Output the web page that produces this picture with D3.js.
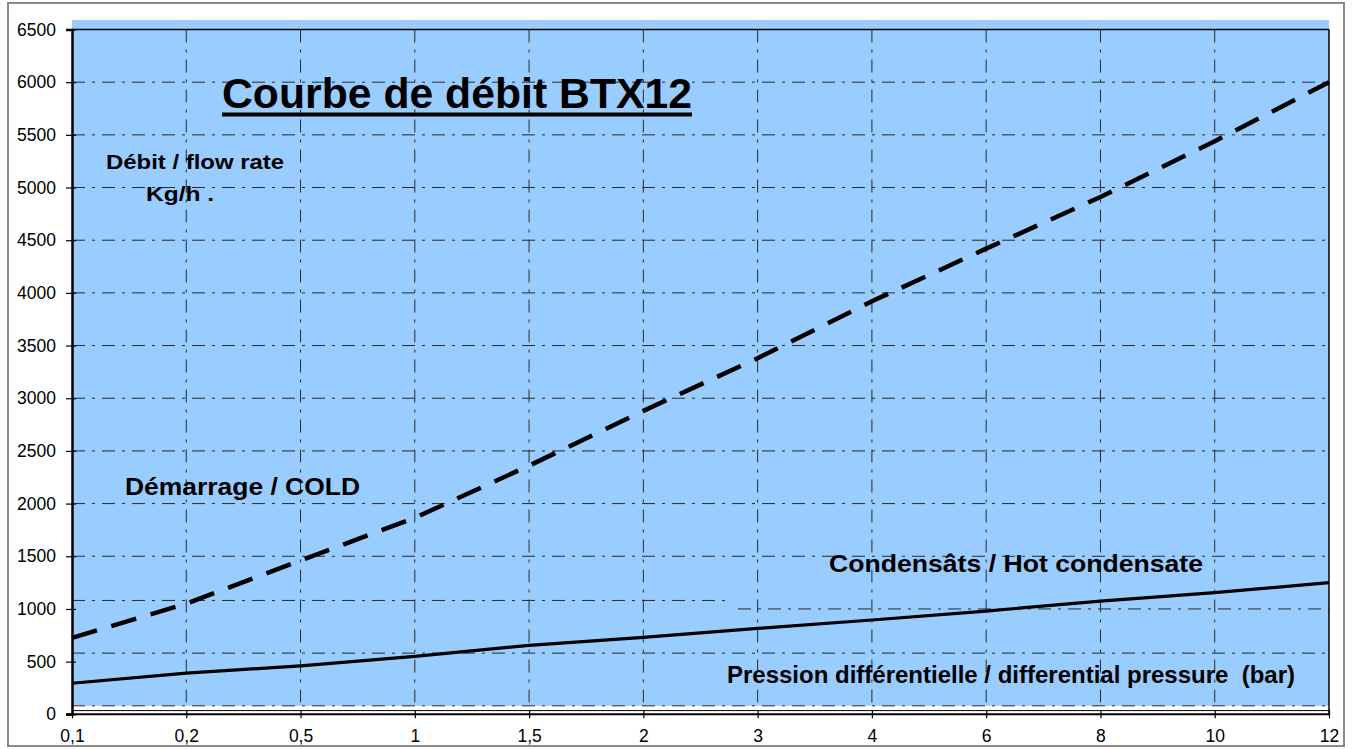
<!DOCTYPE html>
<html>
<head>
<meta charset="utf-8">
<script src="https://cdn.jsdelivr.net/npm/d3@7/dist/d3.min.js"></script>
<style>
  html, body { margin: 0; padding: 0; background: #fff; }
  svg { display: block; font-family: Arial, "Liberation Sans", sans-serif; }
</style>
</head>
<body>
<svg id="chart" width="1354" height="749"></svg>
<script>
// ---- data ----
const categories = ["0,1", "0,2", "0,5", "1", "1,5", "2", "3", "4", "6", "8", "10", "12"];
const coldValues = [725, 1050, 1460, 1865, 2360, 2880, 3380, 3920, 4420, 4910, 5440, 6000];
const hotValues  = [295, 390, 460, 550, 655, 730, 815, 895, 980, 1075, 1155, 1250];
const yTicks = [0, 500, 1000, 1500, 2000, 2500, 3000, 3500, 4000, 4500, 5000, 5500, 6000, 6500];
const titleText = "Courbe de débit BTX12";
const yLabel1 = "Débit / flow rate";
const yLabel2 = "Kg/h .";
const coldLabel = "Démarrage / COLD";
const hotLabel = "Condensâts / Hot condensate";
const xLabel = "Pression différentielle / differential pressure  (bar)";

(function () {
// ---- layout ----
const svg = d3.select("#chart");
const pLeft = 72, pRight = 1329, pTop = 29.5, pBottom = 714.3;
const x = d3.scalePoint().domain(categories).range([pLeft, pRight]);
const y = d3.scaleLinear().domain([0, 6500]).range([pBottom, pTop]);
const gridShift = 8.5; // lower strip of the reference grid is drawn slightly higher

// outer frame
svg.append("rect").attr("x", 8).attr("y", 3).attr("width", 1336).attr("height", 743)
  .attr("fill", "#fff").attr("stroke", "#8a8a8a").attr("stroke-width", 2);

// plot background
svg.append("rect").attr("x", pLeft).attr("y", 20).attr("width", pRight - pLeft)
  .attr("height", (pBottom - gridShift) - 20).attr("fill", "#99CCFF");

const gridStyle = sel => sel.attr("stroke", "#2a2a2a").attr("stroke-width", 1)
  .attr("stroke-dasharray", "13,7,3,7").attr("fill", "none");

// vertical grid lines
svg.append("g").selectAll("line").data(categories.slice(1, -1)).join("line")
  .attr("x1", d => x(d)).attr("x2", d => x(d))
  .attr("y1", pTop).attr("y2", pBottom - gridShift)
  .call(gridStyle);

// horizontal grid lines
const gH = svg.append("g");
yTicks.filter(v => v < 6500).forEach(v => {
  if (v >= 1500) {
    gH.append("line").attr("x1", pLeft).attr("x2", pRight).attr("y1", y(v)).attr("y2", y(v)).call(gridStyle);
  } else if (v === 1000) {
    gH.append("line").attr("x1", pLeft).attr("x2", 730).attr("y1", y(v) - gridShift).attr("y2", y(v) - gridShift).call(gridStyle);
    gH.append("line").attr("x1", 738).attr("x2", pRight).attr("y1", y(v)).attr("y2", y(v)).call(gridStyle);
  } else {
    gH.append("line").attr("x1", pLeft).attr("x2", pRight).attr("y1", y(v) - gridShift).attr("y2", y(v) - gridShift).call(gridStyle);
  }
});

// plot frame
svg.append("line").attr("x1", pLeft).attr("x2", pRight).attr("y1", pTop).attr("y2", pTop).attr("stroke", "#000").attr("stroke-width", 1.5);
svg.append("line").attr("x1", pRight).attr("x2", pRight).attr("y1", pTop).attr("y2", pBottom).attr("stroke", "#000").attr("stroke-width", 1.5);
svg.append("line").attr("x1", pLeft).attr("x2", pRight + 1).attr("y1", pBottom - 3.7).attr("y2", pBottom - 3.7).attr("stroke", "#000").attr("stroke-width", 1);

// y axis
const yAxis = d3.axisLeft(y).tickValues(yTicks).tickSize(6).tickPadding(10).tickFormat(d3.format("d"));
const gy = svg.append("g").attr("transform", `translate(${pLeft},0)`).call(yAxis);
gy.select(".domain").attr("stroke", "#000").attr("stroke-width", 2.5);
gy.selectAll(".tick line").attr("stroke", "#000").attr("stroke-width", 1.2).attr("x2", -6).attr("x1", 4);
gy.selectAll(".tick text").attr("font-size", 17.5).attr("font-family", "Arial, 'Liberation Sans', sans-serif").attr("fill", "#000").attr("x", -16);

// x axis
const xAxis = d3.axisBottom(x).tickSize(8).tickPadding(7);
const gx = svg.append("g").attr("transform", `translate(0,${pBottom})`).call(xAxis);
gx.select(".domain").attr("stroke", "#000").attr("stroke-width", 2).attr("d", `M${pLeft - 6},0H${pRight + 1}`);
gx.selectAll(".tick line").attr("stroke", "#000").attr("stroke-width", 1.2).attr("y1", -4).attr("y2", 4);
gx.selectAll(".tick text").attr("font-size", 17.5).attr("font-family", "Arial, 'Liberation Sans', sans-serif").attr("fill", "#000");

// series
const line = d3.line().x((d, i) => x(categories[i])).y(d => y(d));
svg.append("path").datum(hotValues).attr("d", line)
  .attr("fill", "none").attr("stroke", "#000").attr("stroke-width", 3.2);
svg.append("path").datum(coldValues).attr("d", line)
  .attr("fill", "none").attr("stroke", "#000").attr("stroke-width", 4.5)
  .attr("stroke-dasharray", "26,15");

// texts
const addText = (t, xx, yy, size, len) => svg.append("text").text(t)
  .attr("x", xx).attr("y", yy).attr("font-size", size).attr("font-weight", "bold")
  .attr("fill", "#000").attr("textLength", len).attr("lengthAdjust", "spacingAndGlyphs")
  .style("white-space", "pre");

addText(titleText, 222, 108, 43, 470);
svg.append("rect").attr("x", 222).attr("y", 112.5).attr("width", 470).attr("height", 4).attr("fill", "#000");
addText(yLabel1, 106, 169, 21, 178);
addText(yLabel2, 146, 201, 21, 68);
addText(coldLabel, 125, 495, 24, 235);
addText(hotLabel, 829, 572, 24, 374);
addText(xLabel, 727, 683, 23, 568);
})();
</script>
</body>
</html>
